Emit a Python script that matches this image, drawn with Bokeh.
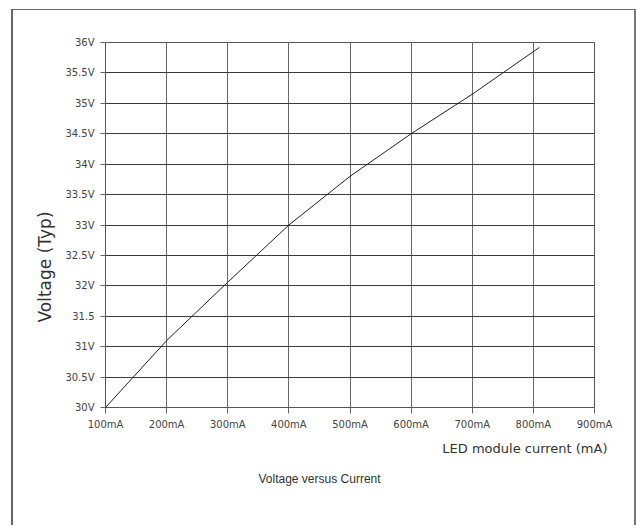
from bokeh.plotting import figure
from bokeh.models import Range1d, FixedTicker, Title
from bokeh.embed import file_html
from bokeh.resources import INLINE

# ---- data ----
current_mA = [100, 200, 300, 400, 500, 600, 700, 810]
voltage_V = [30.0, 31.1, 32.06, 33.0, 33.8, 34.5, 35.15, 35.92]

x_ticks = [100, 200, 300, 400, 500, 600, 700, 800, 900]
x_tick_labels = ["100mA", "200mA", "300mA", "400mA", "500mA", "600mA", "700mA", "800mA", "900mA"]
y_ticks = [30, 30.5, 31, 31.5, 32, 32.5, 33, 33.5, 34, 34.5, 35, 35.5, 36]
y_tick_labels = ["30V", "30.5V", "31V", "31.5", "32V", "32.5V", "33V", "33.5V", "34V",
                 "34.5V", "35V", "35.5V", "36V"]

title_text = "Voltage versus Current"
x_title = "LED module current (mA)"
y_title = "Voltage (Typ)"

OX, OY = 13, 10          # figure offset inside the outer box
W, H = 621, 516
FL, FT, FR, FB = 105, 42, 594, 407   # frame edges in page pixels

p = figure(width=W, height=H, output_backend="svg", toolbar_location=None,
           x_range=Range1d(100, 900), y_range=Range1d(30, 36),
           min_border_left=FL - OX, min_border_right=W - (FR - OX),
           min_border_top=FT - OY, min_border_bottom=H - (FB - OY))
p.margin = (OY, 0, 0, OX)
p.styles = {"box-shadow": "-2px -1px 0 0 #666666, 2px -1px 0 0 #777777"}
p.background_fill_color = "white"
p.border_fill_color = "white"
p.outline_line_color = "#555555"
p.outline_line_width = 1

p.line(current_mA, voltage_V, line_color="#222222", line_width=1)

# axes
p.xaxis.ticker = FixedTicker(ticks=x_ticks)
p.yaxis.ticker = FixedTicker(ticks=y_ticks)
p.xaxis.major_label_overrides = {float(k): v for k, v in zip(x_ticks, x_tick_labels)}
p.yaxis.major_label_overrides = {float(k): v for k, v in zip(y_ticks, y_tick_labels)}
for ax in (p.xaxis, p.yaxis):
    ax.major_label_text_font = "DejaVu Sans"
    ax.major_label_text_font_size = "10px"
    ax.major_label_text_color = "#444444"
    ax.axis_line_color = "#555555"
    ax.major_tick_line_color = "#666666"
    ax.major_tick_in = 0
    ax.minor_tick_line_color = None
p.xaxis.major_tick_out = 6
p.yaxis.major_tick_out = 5
p.xaxis.major_label_standoff = 5
p.yaxis.major_label_standoff = 6

# grid
p.xgrid.ticker = FixedTicker(ticks=x_ticks)
p.ygrid.ticker = FixedTicker(ticks=y_ticks)
p.xgrid.grid_line_color = "#6a6a6a"
p.ygrid.grid_line_color = "#3c3c3c"
p.xgrid.grid_line_alpha = 1
p.ygrid.grid_line_alpha = 1

# titles
p.add_layout(Title(text=y_title, align="left", offset=FB - 322, standoff=16,
                   text_font="DejaVu Sans", text_font_size="17px",
                   text_font_style="normal", text_color="#333333"), "left")
p.add_layout(Title(text=x_title, align="right", offset=FR - 607, standoff=13,
                   text_font="DejaVu Sans", text_font_size="13px",
                   text_font_style="normal", text_color="#333333"), "below")
p.add_layout(Title(text=title_text, align="left", offset=258 - FL, standoff=14,
                   text_font="Liberation Sans", text_font_size="12px",
                   text_font_style="normal", text_color="#333333"), "below")

open("out.html", "w").write(file_html(p, INLINE))
